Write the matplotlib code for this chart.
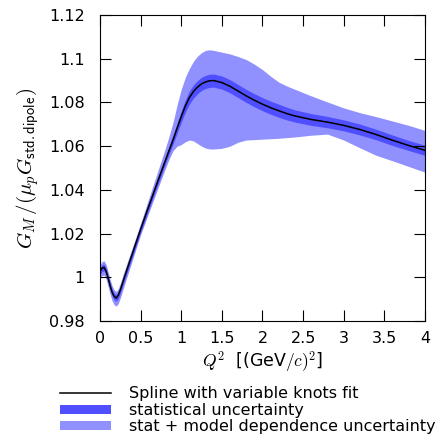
import numpy as np
import matplotlib
matplotlib.use("Agg")
import matplotlib.pyplot as plt

# Q^2 grid and values
q2 = [0.0, 0.025, 0.05, 0.075, 0.1, 0.125, 0.15, 0.175, 0.2, 0.225, 0.25,
      0.3, 0.35, 0.4, 0.45, 0.5,
      0.6, 0.7, 0.8, 0.85, 0.9, 0.95,
      1.0, 1.05, 1.1, 1.15, 1.2, 1.25, 1.3, 1.35, 1.4,
      1.5, 1.6, 1.7, 1.8, 1.9, 2.0,
      2.1, 2.2, 2.3, 2.4,
      2.6, 2.8, 3.0, 3.2, 3.4, 3.6, 3.8, 4.0]

fit = [1.0025, 1.0042, 1.0045, 1.0028, 0.9995, 0.9960, 0.9930, 0.9912, 0.9905, 0.9918, 0.9942,
       1.0000, 1.0055, 1.0110, 1.0165, 1.0220,
       1.0325, 1.0428, 1.0530, 1.0580, 1.0630, 1.0683,
       1.0735, 1.0783, 1.0822, 1.0850, 1.0870, 1.0885, 1.0894, 1.0899, 1.0900,
       1.0891, 1.0874, 1.0852, 1.0830, 1.0810, 1.0792,
       1.0776, 1.0762, 1.0749, 1.0738,
       1.0722, 1.0710, 1.0695, 1.0676, 1.0653, 1.0627, 1.0603, 1.0581]

stat_err = [0.0015] * 11 + \
           [0.0015] * 5 + \
           [0.0015, 0.0015, 0.0015, 0.0017, 0.0020, 0.0023] + \
           [0.0026, 0.0028, 0.0030, 0.0030, 0.0030, 0.0030, 0.0030, 0.0030, 0.0030] + \
           [0.0030] * 6 + \
           [0.0030, 0.0030, 0.0029, 0.0028] + \
           [0.0027, 0.0026, 0.0025, 0.0025, 0.0024, 0.0024, 0.0023, 0.0023]

model_hi = [1.0058, 1.0072, 1.0075, 1.0058, 1.0025, 0.9990, 0.9960, 0.9942, 0.9935, 0.9948, 0.9972,
            1.0030, 1.0085, 1.0138, 1.0192, 1.0247,
            1.0360, 1.0473, 1.0585, 1.0645, 1.0710, 1.0790,
            1.0860, 1.0915, 1.0955, 1.0988, 1.1012, 1.1028, 1.1038, 1.1041, 1.1038,
            1.1030, 1.1022, 1.1010, 1.0996, 1.0975, 1.0950,
            1.0920, 1.0893, 1.0875, 1.0860,
            1.0830, 1.0802, 1.0775, 1.0753, 1.0735, 1.0715, 1.0695, 1.0672]

model_lo = [0.9992, 1.0008, 1.0010, 0.9992, 0.9958, 0.9922, 0.9892, 0.9874, 0.9868, 0.9880, 0.9905,
            0.9965, 1.0022, 1.0080, 1.0138, 1.0195,
            1.0295, 1.0395, 1.0493, 1.0540, 1.0580, 1.0600,
            1.0607, 1.0620, 1.0628, 1.0624, 1.0612, 1.0600, 1.0591, 1.0587, 1.0587,
            1.0590, 1.0600, 1.0618, 1.0628, 1.0630, 1.0632,
            1.0634, 1.0636, 1.0639, 1.0642,
            1.0650, 1.0655, 1.0628, 1.0592, 1.0558, 1.0533, 1.0507, 1.0481]

xticks = [0, 0.5, 1, 1.5, 2, 2.5, 3, 3.5, 4]
xticklabels = ["0", "0.5", "1", "1.5", "2", "2.5", "3", "3.5", "4"]
yticks = [0.98, 1.0, 1.02, 1.04, 1.06, 1.08, 1.1, 1.12]
yticklabels = ["0.98", "1", "1.02", "1.04", "1.06", "1.08", "1.1", "1.12"]


def main():
    plt.rcParams["font.family"] = "DejaVu Sans"
    plt.rcParams["mathtext.fontset"] = "cm"
    plt.rcParams["font.size"] = 11.5

    x = np.array(q2)
    y = np.array(fit)
    err = np.array(stat_err)

    fig = plt.figure(figsize=(4.45, 4.34), dpi=100)
    ax = fig.add_axes([0.2247, 0.2604, 0.7303, 0.705])

    model = ax.fill_between(x, model_lo, model_hi, color="#9090ff", lw=0)
    stat = ax.fill_between(x, y - err, y + err, color="#4f4fff", lw=0)
    line, = ax.plot(x, y, color="black", lw=1.1)

    ax.set_xlim(0, 4)
    ax.set_ylim(0.98, 1.12)
    ax.set_xticks(xticks)
    ax.set_xticklabels(xticklabels)
    ax.set_yticks(yticks)
    ax.set_yticklabels(yticklabels)
    ax.tick_params(direction="in", length=8, width=0.8, top=True, right=True)
    ax.tick_params(axis="y", pad=11)
    ax.tick_params(axis="x", pad=7)

    ax.set_xlabel(r"$Q^2\ $ [(GeV$/c)^2$]", fontsize=12.5, labelpad=3)
    ax.set_ylabel(r"$G_M\,/(\mu_p G_{\mathsf{std.dipole}})$", fontsize=15, labelpad=6)

    fig.legend([line, stat, model],
               ["Spline with variable knots fit", "statistical uncertainty",
                "stat + model dependence uncertainty"],
               loc="upper left", bbox_to_anchor=(0.135, 0.11),
               frameon=False, borderpad=0, borderaxespad=0,
               handlelength=3.2, handletextpad=1.1, labelspacing=0.1,
               handleheight=0.5)

    fig.savefig("out.png", dpi=100)


if __name__ == "__main__":
    main()
